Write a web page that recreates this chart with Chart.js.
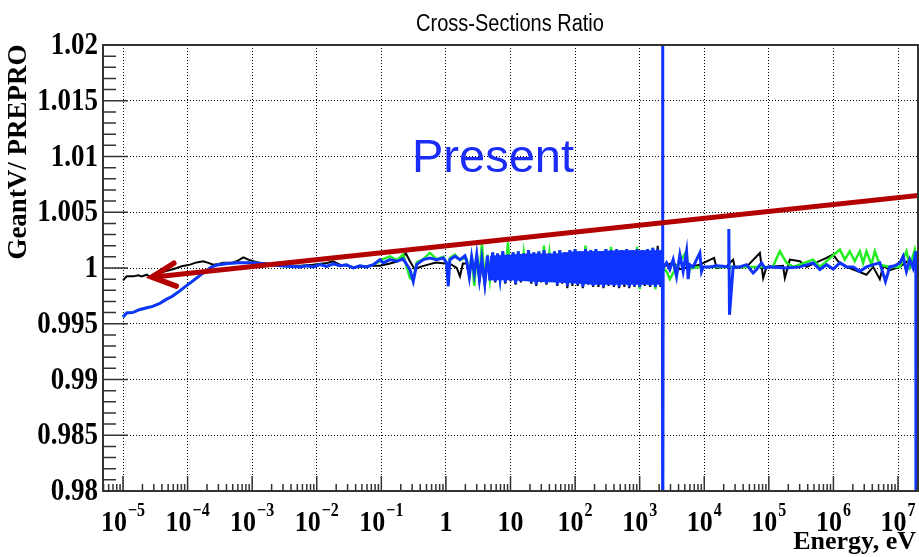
<!DOCTYPE html>
<html>
<head>
<meta charset="utf-8">
<title>Cross-Sections Ratio</title>
<script src="https://cdn.jsdelivr.net/npm/chart.js@4.4.1/dist/chart.umd.min.js"></script>
<style>
  html, body { margin: 0; padding: 0; background: #fff; }
  #wrap { width: 919px; height: 557px; }
</style>
</head>
<body>
<div id="wrap"><canvas id="grafico_ratio" width="919" height="557"></canvas></div>
<script>
// energies in eV, ratios GeantV / PREPRO

// below the resolved-resonance band (blue and green share these energies)
var lowE = [1.0e-5, 1.14e-5, 1.44e-5, 1.79e-5, 2.27e-5, 2.87e-5, 3.65e-5, 4.6e-5, 5.8e-5, 7.4e-5,
            9.3e-5, 1.18e-4, 1.49e-4, 1.88e-4, 2.37e-4, 3.0e-4, 4.2e-4, 6.0e-4, 9.5e-4, 1.5e-3,
            2.7e-3, 5.5e-3, 6.98e-3, 8.8e-3, 1.12e-2, 1.42e-2, 1.8e-2, 2.29e-2, 2.9e-2, 3.67e-2,
            4.67e-2, 5.9e-2, 7.5e-2, 9.5e-2, 0.107, 0.136, 0.173, 0.218, 0.277, 0.312,
            0.352, 0.446, 0.565, 0.717, 0.908, 1.025, 1.087, 1.15, 1.38, 1.65, 1.97];
var blueLow = [0.9956, 0.99596, 0.99602, 0.99626, 0.99641, 0.99656, 0.9968, 0.99716, 0.99746, 0.9979,
               0.99835, 0.9988, 0.99925, 0.9997, 1.0001, 1.0003, 1.0004, 1.00046, 1.00046, 1.0004,
               1.0002, 1.0001, 1.0002, 1.0001, 1.0003, 1.00015, 1.00037, 1.0002, 1.00028, 1.0,
               1.0002, 1.0001, 1.0003, 1.00075, 1.00046, 1.00075, 1.0006, 1.0008, 0.99986, 0.9988,
               1.0003, 1.00075, 1.0009, 1.00075, 1.0009, 1.00046, 0.99836, 1.00075, 1.00105, 1.00075, 1.0011];
var greenLow = [0.9956, 0.99596, 0.99602, 0.99626, 0.99641, 0.99656, 0.9968, 0.99716, 0.99746, 0.9979,
                0.99835, 0.9988, 0.99925, 0.9997, 1.0001, 1.0003, 1.0004, 1.00046, 1.00046, 1.0004,
                1.0002, 1.0001, 1.0002, 1.0001, 1.0003, 1.00015, 1.00037, 1.0002, 1.00028, 1.0,
                1.0002, 1.0001, 1.0003, 1.0006, 1.0008, 1.00105, 1.0007, 1.0012, 0.9991, 0.9989,
                1.0005, 1.0008, 1.00135, 1.0008, 1.001, 1.0005, 0.999, 1.0009, 1.0012, 1.0007, 1.0009];

var blackLowE = [1.0e-5, 1.14e-5, 1.44e-5, 1.73e-5, 1.95e-5, 2.33e-5, 2.62e-5, 2.91e-5, 3.7e-5, 4.5e-5,
                 5.7e-5, 6.8e-5, 8.1e-5, 1.09e-4, 1.38e-4, 1.75e-4, 2.09e-4, 2.5e-4, 3.0e-4, 3.57e-4,
                 4.8e-4, 5.75e-4, 7.3e-4, 8.7e-4, 1.04e-3, 1.32e-3, 2.7e-3, 5.5e-3, 8.7e-3, 1.44e-2,
                 1.78e-2, 2.3e-2, 2.95e-2, 3.6e-2, 4.7e-2, 6.6e-2, 9.5e-2, 0.136, 0.18, 0.24,
                 0.277, 0.33, 0.40, 0.53, 0.70, 0.97, 1.22, 1.47, 1.65, 1.83];
var blackLow = [0.99889, 0.99925, 0.99925, 0.99934, 0.99925, 0.9994, 0.9992, 0.9994, 0.99955, 0.9997,
                0.99986, 1.0, 1.00015, 1.0003, 1.0005, 1.0006, 1.00046, 1.0003, 1.00037, 1.00046,
                1.00046, 1.0006, 1.00096, 1.00075, 1.0006, 1.00046, 1.0002, 1.0002, 1.0003, 1.00045,
                1.0006, 1.0003, 1.0002, 1.0001, 1.0001, 1.0002, 1.0002, 1.0004, 1.0006, 1.0013,
                1.0006, 0.99986, 1.0001, 1.0003, 1.0005, 1.0004, 1.0003, 1.0, 0.99925, 1.0004];

// resonance region, 2 eV - 2.3 keV
var denseE = [2.1, 2.3, 2.5, 2.75, 3.0, 3.3, 3.6, 4.0, 4.4, 4.8,
              5.3, 5.8, 6.3, 6.9, 7.6, 8.3, 9.1, 10, 11, 12,
              13.2, 14.5, 16, 17.5, 19, 21, 23, 25, 27.5, 30,
              33, 36, 40, 44, 48, 53, 58, 63, 69, 76,
              83, 91, 100, 110, 120, 132, 145, 160, 175, 190,
              210, 230, 250, 275, 300, 330, 360, 400, 440, 480,
              530, 580, 630, 690, 760, 830, 910, 1000, 1100, 1200,
              1320, 1450, 1600, 1750, 1900, 2100, 2250];
var blueDense = [1.0006, 0.9992, 1.0010, 0.9995, 1.0012, 0.9990, 1.0008, 0.9986, 1.0011, 0.9989,
                 1.0014, 0.9988, 1.0013, 0.9991, 1.0015, 0.9987, 1.0012, 0.9989, 1.0014, 0.9986,
                 1.0015, 0.9988, 1.0013, 0.9990, 1.0016, 0.9987, 1.0014, 0.9985, 1.0015, 0.9988,
                 1.0016, 0.9986, 1.0013, 0.9989, 1.0015, 0.9985, 1.0016, 0.9987, 1.0014, 0.9984,
                 1.0016, 0.9986, 1.0017, 0.9985, 1.0015, 0.9983, 1.0017, 0.9986, 1.0016, 0.9984,
                 1.0017, 0.9985, 1.0015, 0.9983, 1.0017, 0.9985, 1.0016, 0.9984, 1.0017, 0.9983,
                 1.0016, 0.9985, 1.0017, 0.9983, 1.0016, 0.9984, 1.0017, 0.9983, 1.0016, 0.9985,
                 1.0017, 0.9984, 1.0018, 0.9983, 1.0017, 0.9984, 1.0016];
var greenDense = [1.0008, 0.9993, 1.0012, 0.9984, 1.0013, 0.9991, 1.0022, 0.9987, 1.0012, 0.9990,
                  1.0014, 0.9989, 1.0013, 0.9992, 1.0015, 0.9988, 1.0023, 0.9990, 1.0014, 0.9987,
                  1.0015, 0.9989, 1.0013, 0.9991, 1.0016, 0.9988, 1.0014, 0.9986, 1.0015, 0.9989,
                  1.0020, 0.9987, 1.0013, 0.9990, 1.0015, 0.9986, 1.0016, 0.9988, 1.0014, 0.9985,
                  1.0016, 0.9987, 1.0017, 0.9986, 1.0015, 0.9984, 1.0020, 0.9987, 1.0016, 0.9985,
                  1.0017, 0.9986, 1.0015, 0.9984, 1.0017, 0.9986, 1.0019, 0.9985, 1.0017, 0.9984,
                  1.0016, 0.9986, 1.0017, 0.9984, 1.0016, 0.9985, 1.0019, 0.9981, 1.0016, 0.9986,
                  1.0017, 0.9985, 1.0018, 0.9981, 1.0017, 0.9985, 1.0016];
var blackDense = [1.0004, 0.9994, 1.0008, 0.9993, 1.0010, 0.9988, 1.0006, 0.9984, 1.0010, 0.9988,
                  1.0013, 0.9987, 1.0012, 0.9990, 1.0014, 0.9986, 1.0011, 0.9988, 1.0013, 0.9985,
                  1.0014, 0.9987, 1.0012, 0.9989, 1.0015, 0.9986, 1.0013, 0.9984, 1.0014, 0.9987,
                  1.0015, 0.9985, 1.0012, 0.9988, 1.0014, 0.9984, 1.0015, 0.9986, 1.0013, 0.9982,
                  1.0015, 0.9984, 1.0016, 0.9984, 1.0014, 0.9982, 1.0016, 0.9985, 1.0015, 0.9983,
                  1.0016, 0.9983, 1.0014, 0.9982, 1.0016, 0.9984, 1.0015, 0.9983, 1.0016, 0.9982,
                  1.0015, 0.9983, 1.0016, 0.9982, 1.0015, 0.9983, 1.0016, 0.9982, 1.0015, 0.9984,
                  1.0016, 0.9983, 1.0017, 0.9982, 1.0020, 0.9983, 1.0015];

// blue resonance band: the oscillation is too fast to resolve, so its inner envelope is filled
var bandE = [4.8, 10, 20, 50, 100, 200, 500, 1000, 2250];
var bandTop = [1.0011, 1.0012, 1.0013, 1.0013, 1.0015, 1.0015, 1.0016, 1.0016, 1.0016];
var bandBottom = [0.9989, 0.9989, 0.9988, 0.9987, 0.9986, 0.9985, 0.9985, 0.9985, 0.9985];

// above the resonance band
var blueHighE = [2270, 2280, 2310, 2610, 2930, 3300, 3720, 4190, 4710, 5320,
                 5630, 5980, 6730, 7600, 8550, 9080, 9620, 12200, 15500, 19600,
                 23500, 24000, 24600, 28000, 35600, 45100, 57200, 64500, 77100, 86800,
                 1.04e5, 1.88e5, 3.02e5, 4.85e5, 6.17e5, 7.82e5, 9.9e5, 1.26e6, 1.6e6, 2.02e6,
                 2.56e6, 3.25e6, 4.12e6, 5.23e6, 6.4e6, 7.46e6, 8.92e6, 1.07e7, 1.2e7, 1.35e7,
                 1.52e7, 1.71e7, 1.89e7, 1.9e7];
var blueHigh = [1.03, 0.97, 1.0, 1.00046, 0.99986, 1.00075, 0.99925, 1.0012, 0.9997, 1.0015,
                0.999, 1.0003, 1.0001, 1.00075, 1.00135, 0.9997, 1.0001, 1.0001, 1.0002, 1.00015,
                1.0001, 1.0035, 0.9958, 1.0001, 1.0001, 1.0003, 0.99955, 0.99986, 1.00046, 1.0,
                1.0001, 1.0, 1.0001, 1.00046, 0.99986, 1.0003, 0.9999, 1.00046, 1.0001, 1.0001,
                0.9997, 1.0001, 1.0003, 1.00046, 0.9988, 1.0001, 1.0002, 1.00046, 1.00105, 0.9997,
                1.00075, 1.0, 1.0015, 0.97];
var greenHighE = [2310, 2610, 2930, 3720, 5320, 5630, 8550, 28000, 1.15e5, 1.48e5,
                  1.88e5, 2.38e5, 4.85e5, 6.17e5, 1.26e6, 1.5e6, 1.79e6, 2.14e6, 2.56e6, 2.88e6,
                  3.25e6, 3.89e6, 4.38e6, 5.23e6, 7.46e6, 1.07e7, 1.35e7, 1.52e7, 1.82e7, 2.04e7];
var greenHigh = [1.0, 0.9997, 0.999, 1.0001, 1.0015, 0.9999, 1.0001, 1.0001, 1.0001, 1.0015,
                 1.00046, 1.0001, 1.00075, 1.0001, 1.00165, 1.00075, 1.0015, 1.0006, 1.0015, 1.00046,
                 1.0015, 1.0003, 1.0015, 1.0003, 1.0001, 1.0001, 1.0015, 1.0001, 1.00165, 1.0001];
var blackHighE = [2310, 3300, 4190, 8550, 14200, 15500, 21600, 28000, 29800, 45100,
                  72600, 81700, 92100, 1.66e5, 1.77e5, 2.11e5, 3.02e5, 3.84e5, 7.82e5, 9.9e5,
                  1.18e6, 1.6e6, 3.25e6, 4.12e6, 5.23e6, 5.87e6, 7.46e6, 1.07e7, 1.52e7, 1.9e7, 2.04e7];
var blackHigh = [1.0001, 1.0005, 0.9999, 1.0003, 1.0009, 1.0, 1.0001, 1.00075, 1.0, 1.0001,
                 1.00135, 0.9991, 1.0001, 1.0002, 0.9991, 1.00075, 1.0006, 1.0001, 1.0009, 1.0012,
                 1.0006, 1.0001, 0.9994, 1.0001, 0.999, 1.0002, 0.9998, 1.0001, 1.00075, 1.0001, 1.0001];

// red arrow: head at low energy, tail leaving the right edge
var arrowTip = [2.8e-5, 0.99918];
var arrowEnd = [2.1e7, 1.00651];

// axis ticks
var yTicks = [0.98, 0.985, 0.99, 0.995, 1.0, 1.005, 1.01, 1.015, 1.02];
var yTickLabels = ['0.98', '0.985', '0.99', '0.995', '1', '1.005', '1.01', '1.015', '1.02'];
var xTicks = [1e-5, 1e-4, 1e-3, 1e-2, 1e-1, 1, 10, 1e2, 1e3, 1e4, 1e5, 1e6, 1e7];
var xTickBase = ['10', '10', '10', '10', '10', '1', '10', '10', '10', '10', '10', '10', '10'];
var xTickSup = ['\u22125', '\u22124', '\u22123', '\u22122', '\u22121', '', '', '2', '3', '4', '5', '6', '7'];

var serif = "'Liberation Serif', 'DejaVu Serif', serif";
var sans = "'Liberation Sans', Arial, sans-serif";
var azul = '#1034ff';

function pontos(e, r) {
    var out = [];
    for (var i = 0; i < e.length; i++) {
        out.push({ x: e[i], y: r[i] });
    }
    return out;
}

function texto(ctx, s, x, y, font, sy, align, base, cor) {
    ctx.save();
    ctx.translate(x, y);
    ctx.scale(1, sy);
    ctx.font = font;
    ctx.textAlign = align;
    ctx.textBaseline = base;
    ctx.fillStyle = cor || '#000';
    ctx.fillText(s, 0, 0);
    ctx.restore();
}

var molduraRoot = {
    id: 'molduraRoot',
    beforeDraw: function (chart) {
        var ctx = chart.ctx;
        ctx.save();
        ctx.fillStyle = '#fff';
        ctx.fillRect(0, 0, chart.width, chart.height);
        ctx.restore();
    },
    afterDatasetsDraw: function (chart) {
        var ctx = chart.ctx, a = chart.chartArea;
        var xs = chart.scales.x, ys = chart.scales.y;

        // arrow
        var x0 = xs.getPixelForValue(arrowTip[0]), y0 = ys.getPixelForValue(arrowTip[1]);
        var x1 = xs.getPixelForValue(arrowEnd[0]), y1 = ys.getPixelForValue(arrowEnd[1]);
        var ang = Math.atan2(y1 - y0, x1 - x0);
        ctx.save();
        ctx.beginPath();
        ctx.rect(a.left, a.top, a.right - a.left, a.bottom - a.top);
        ctx.clip();
        ctx.strokeStyle = '#b30000';
        ctx.lineWidth = 5;
        ctx.beginPath();
        ctx.moveTo(x0, y0);
        ctx.lineTo(x1, y1);
        ctx.stroke();
        ctx.lineWidth = 5.5;
        ctx.lineCap = 'round';
        ctx.beginPath();
        ctx.moveTo(x0 + 26 * Math.cos(ang - 0.46), y0 + 26 * Math.sin(ang - 0.46));
        ctx.lineTo(x0, y0);
        ctx.lineTo(x0 + 26 * Math.cos(ang + 0.46), y0 + 26 * Math.sin(ang + 0.46));
        ctx.stroke();
        ctx.restore();

        // frame and tick marks
        ctx.save();
        ctx.strokeStyle = '#333';
        ctx.lineWidth = 2;
        ctx.strokeRect(a.left, a.top, a.right - a.left, a.bottom - a.top);
        ctx.lineWidth = 1.5;
        ctx.beginPath();
        for (var k = 0; k <= 40; k++) {
            var py = ys.getPixelForValue(0.98 + k * 0.001);
            var len = (k % 5 === 0) ? 25 : 13;
            ctx.moveTo(a.left, py);
            ctx.lineTo(a.left + len, py);
        }
        for (var d = -6; d <= 7; d++) {
            for (var m = 1; m <= 9; m++) {
                var v = m * Math.pow(10, d);
                if (v < xs.min || v > xs.max) continue;
                var px = xs.getPixelForValue(v);
                ctx.moveTo(px, a.bottom);
                ctx.lineTo(px, a.bottom - (m === 1 ? 15 : 7));
            }
        }
        ctx.stroke();
        ctx.restore();
    },
    afterDraw: function (chart) {
        var ctx = chart.ctx;
        var xs = chart.scales.x, ys = chart.scales.y;

        texto(ctx, 'Cross-Sections Ratio', 510, 31, '20px ' + sans, 1.15, 'center', 'alphabetic');

        for (var i = 0; i < yTicks.length; i++) {
            texto(ctx, yTickLabels[i], 98, ys.getPixelForValue(yTicks[i]) + 1, 'bold 27px ' + serif, 1.15, 'right', 'middle');
        }

        for (var j = 0; j < xTicks.length; j++) {
            ctx.font = 'bold 26px ' + serif;
            var wb = ctx.measureText(xTickBase[j]).width;
            ctx.font = 'bold 16px ' + serif;
            var we = xTickSup[j] ? ctx.measureText(xTickSup[j]).width + 1 : 0;
            var x0 = xs.getPixelForValue(xTicks[j]) - (wb + we) / 2;
            texto(ctx, xTickBase[j], x0, 531, 'bold 26px ' + serif, 1.17, 'left', 'alphabetic');
            if (xTickSup[j]) {
                texto(ctx, xTickSup[j], x0 + wb + 1, 516, 'bold 16px ' + serif, 1.15, 'left', 'alphabetic');
            }
        }

        texto(ctx, 'Energy, eV', 916, 549, 'bold 26px ' + serif, 1.0, 'right', 'alphabetic');

        ctx.save();
        ctx.translate(19, 152);
        ctx.rotate(-Math.PI / 2);
        ctx.font = 'bold 27px ' + serif;
        ctx.textAlign = 'center';
        ctx.textBaseline = 'middle';
        ctx.fillStyle = '#000';
        ctx.fillText('GeantV/ PREPRO', 0, 0);
        ctx.restore();

        texto(ctx, 'Present', 412, 172, '47px ' + sans, 1.0, 'left', 'alphabetic', '#1a2cf5');
    }
};

var contexto = document.getElementById('grafico_ratio').getContext('2d');

var grafico = new Chart(contexto, {
    type: 'line',
    data: {
        datasets: [{
            label: 'blue',
            data: pontos(lowE, blueLow).concat(pontos(denseE, blueDense), pontos(blueHighE, blueHigh)),
            borderColor: azul,
            borderWidth: 3
        }, {
            label: 'blue band top',
            data: pontos(bandE, bandTop),
            borderWidth: 0,
            borderColor: azul,
            backgroundColor: azul,
            fill: '+1'
        }, {
            label: 'blue band bottom',
            data: pontos(bandE, bandBottom),
            borderWidth: 0,
            borderColor: azul
        }, {
            label: 'green',
            data: pontos(lowE, greenLow).concat(pontos(denseE, greenDense), pontos(greenHighE, greenHigh)),
            borderColor: '#22ee22',
            borderWidth: 2.5
        }, {
            label: 'black',
            data: pontos(blackLowE, blackLow).concat(pontos(denseE, blackDense), pontos(blackHighE, blackHigh)),
            borderColor: '#000000',
            borderWidth: 2
        }]
    },
    options: {
        responsive: false,
        animation: false,
        devicePixelRatio: 1,
        layout: { padding: { left: 103, top: 45, right: 1, bottom: 66 } },
        elements: {
            point: { radius: 0 },
            line: { tension: 0, borderJoinStyle: 'miter', fill: false }
        },
        plugins: {
            legend: { display: false },
            title: { display: false },
            tooltip: { enabled: false }
        },
        scales: {
            x: {
                type: 'logarithmic',
                min: 4.9e-6,
                max: 2.04e7,
                ticks: { display: false },
                grid: { color: '#000', lineWidth: 1, drawTicks: false },
                border: { display: false, dash: [1, 2] },
                afterBuildTicks: function (axis) {
                    axis.ticks = xTicks.map(function (v) { return { value: v }; });
                }
            },
            y: {
                type: 'linear',
                min: 0.98,
                max: 1.02,
                ticks: { display: false, stepSize: 0.005 },
                grid: { color: '#000', lineWidth: 1, drawTicks: false },
                border: { display: false, dash: [1, 2] }
            }
        }
    },
    plugins: [molduraRoot]
});
</script>
</body>
</html>
